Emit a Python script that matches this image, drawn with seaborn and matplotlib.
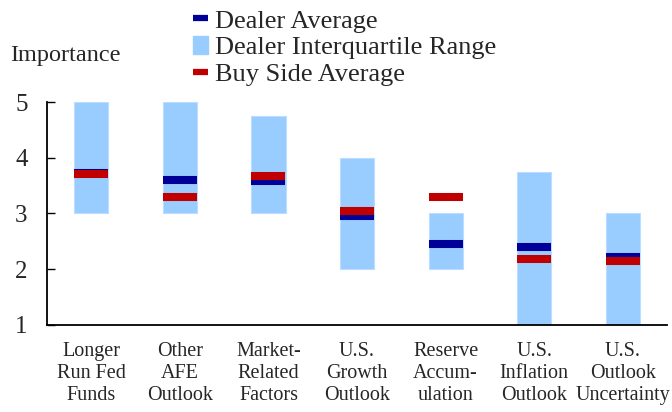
import seaborn as sns
import matplotlib.pyplot as plt
import matplotlib.lines as mlines
import matplotlib.patches as mpatches
import numpy as np
import pandas as pd

# Data
categories = [
    "Longer\nRun Fed\nFunds",
    "Other\nAFE\nOutlook",
    "Market-\nRelated\nFactors",
    "U.S.\nGrowth\nOutlook",
    "Reserve\nAccum-\nulation",
    "U.S.\nInflation\nOutlook",
    "U.S.\nOutlook\nUncertainty",
]
iqr_low = [3.0, 3.0, 3.0, 2.0, 2.0, 1.0, 1.0]
iqr_high = [5.0, 5.0, 4.75, 4.0, 3.0, 3.75, 3.0]
dealer_avg = [3.73, 3.60, 3.58, 2.95, 2.45, 2.40, 2.22]
buyside_avg = [3.71, 3.30, 3.67, 3.04, 3.30, 2.18, 2.15]

df = pd.DataFrame({
    "category": categories,
    "low": iqr_low,
    "range": np.array(iqr_high) - np.array(iqr_low),
    "dealer": dealer_avg,
    "buyside": buyside_avg,
})

sns.set_style("white")
plt.rcParams["font.family"] = ["Liberation Serif", "DejaVu Serif"]

iqr_color = "#99CCFF"
dealer_color = "#000099"
buy_color = "#C00000"

fig = plt.figure(figsize=(6.72, 4.12), dpi=100)
ax = fig.add_axes([0.070, 0.2112, 0.9226, 0.5412])

# interquartile range as floating bars
sns.barplot(data=df, x="category", y="range", bottom=df["low"].values,
            color=iqr_color, saturation=1, width=0.385, ax=ax,
            edgecolor="#BBDDFF", linewidth=0.8)

# averages as short thick dashes
mk = dict(marker="_", s=24.5 ** 2, linewidth=5.8, zorder=3, legend=False)
sns.scatterplot(data=df, x="category", y="dealer", color=dealer_color, ax=ax, **mk)
sns.scatterplot(data=df, x="category", y="buyside", color=buy_color, ax=ax, **mk)

ax.set_xlim(-0.5, 6.5)
ax.set_ylim(1, 5)
ax.set_xlabel("")
ax.set_ylabel("")
ax.set_yticks([1, 2, 3, 4, 5])
ax.set_xticks(np.arange(len(categories)))
ax.set_xticklabels(categories, fontsize=14.5, linespacing=1.22)
ax.set_xticks(np.arange(len(categories) + 1) - 0.5, minor=True)
ax.tick_params(axis="x", which="major", length=0, pad=12)
ax.tick_params(axis="x", which="minor", length=5, width=1, direction="out", color="black")
ax.tick_params(axis="y", length=6, width=1, direction="in", labelsize=18, pad=14,
               left=True, color="black")
for side in ["top", "right"]:
    ax.spines[side].set_visible(False)
for side in ["left", "bottom"]:
    ax.spines[side].set_color("black")
    ax.spines[side].set_linewidth(1.3)

fig.text(0.015, 0.866, "Importance", fontsize=17.5, va="center", ha="left")

handles = [
    mlines.Line2D([], [], color=dealer_color, linewidth=4.5, solid_capstyle="butt"),
    mpatches.Patch(color=iqr_color),
    mlines.Line2D([], [], color=buy_color, linewidth=4.5, solid_capstyle="butt"),
]
labels = ["Dealer Average", "Dealer Interquartile Range", "Buy Side Average"]
fig.legend(handles, labels, loc="upper left", bbox_to_anchor=(0.287, 0.978),
           frameon=False, fontsize=19, handlelength=0.57, handleheight=0.7,
           handletextpad=0.25, labelspacing=0.12, borderpad=0, borderaxespad=0)

fig.savefig("out.png", dpi=100)
